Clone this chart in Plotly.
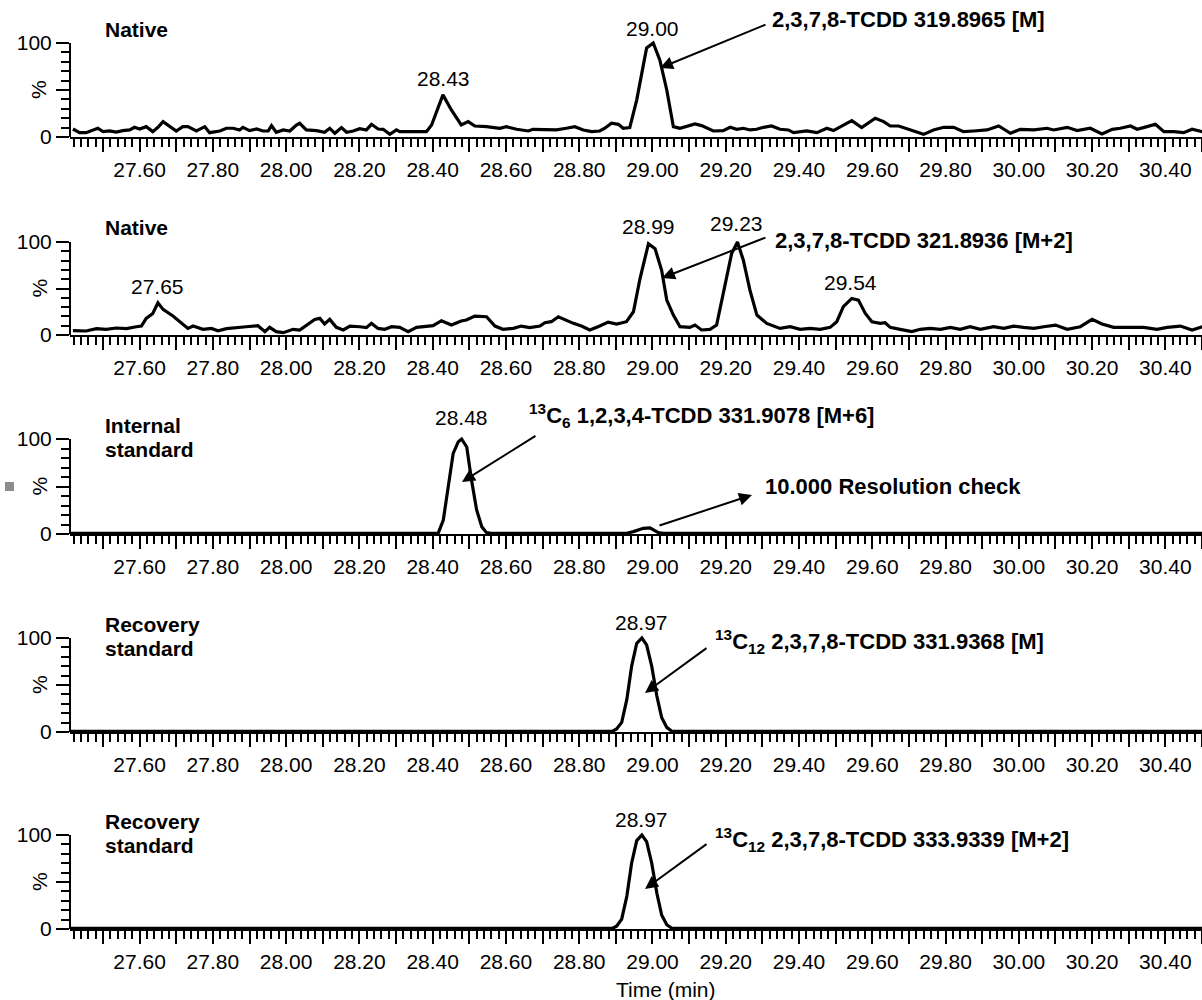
import plotly.graph_objects as go

# ---------------- data ----------------
# Panel 1: Native, 2,3,7,8-TCDD 319.8965 [M]
T1 = [27.418, 27.436, 27.454, 27.472, 27.486, 27.500, 27.518, 27.536, 27.554, 27.573,
      27.586, 27.600, 27.618, 27.636, 27.650, 27.664, 27.682, 27.700, 27.718, 27.732,
      27.755, 27.778, 27.791, 27.819, 27.837, 27.855, 27.873, 27.882, 27.900, 27.919,
      27.937, 27.951, 27.960, 27.973, 27.992, 28.010, 28.028, 28.037, 28.055, 28.083,
      28.105, 28.119, 28.133, 28.151, 28.165, 28.183, 28.201, 28.219, 28.233, 28.251,
      28.265, 28.283, 28.301, 28.310, 28.383, 28.397, 28.428, 28.451, 28.478, 28.497,
      28.515, 28.547, 28.583, 28.601, 28.629, 28.661, 28.674, 28.711, 28.738, 28.765,
      28.788, 28.811, 28.834, 28.856, 28.870, 28.888, 28.907, 28.920, 28.938, 28.957,
      28.984, 29.002, 29.020, 29.039, 29.057, 29.075, 29.093, 29.116, 29.134, 29.166,
      29.193, 29.212, 29.230, 29.248, 29.266, 29.284, 29.303, 29.325, 29.348, 29.371,
      29.385, 29.403, 29.421, 29.449, 29.476, 29.494, 29.517, 29.544, 29.571, 29.608,
      29.631, 29.649, 29.672, 29.704, 29.740, 29.767, 29.795, 29.822, 29.849, 29.877,
      29.913, 29.945, 29.977, 30.004, 30.041, 30.077, 30.095, 30.132, 30.159, 30.195,
      30.227, 30.255, 30.277, 30.305, 30.323, 30.350, 30.373, 30.396, 30.423, 30.450,
      30.473, 30.501]
I1 = [8.5, 4.6, 4.6, 7.5, 9.3, 5.7, 6.4, 5.3, 6.8, 7.5,
      10.3, 8.5, 11.0, 5.7, 10.3, 16.4, 11.7, 6.4, 11.0, 11.0,
      6.4, 11.0, 4.6, 6.4, 9.3, 9.3, 7.5, 10.3, 6.8, 8.5,
      6.4, 6.4, 12.1, 5.0, 7.5, 6.4, 12.8, 14.6, 7.5, 6.8,
      5.0, 9.3, 3.9, 10.0, 5.0, 6.4, 8.9, 7.5, 13.5, 8.5,
      8.2, 2.8, 7.5, 5.7, 5.7, 12.8, 44.8, 28.8, 12.8, 16.4,
      11.7, 11.0, 9.3, 11.0, 8.2, 6.4, 8.2, 7.5, 7.5, 9.3,
      11.0, 7.5, 5.7, 6.4, 9.3, 14.6, 13.5, 9.3, 10.0, 39.5,
      94.7, 100.0, 82.0, 50.0, 11.0, 9.3, 11.0, 13.9, 12.1, 6.4,
      6.8, 10.3, 8.2, 9.3, 7.5, 8.2, 10.3, 11.7, 8.2, 7.5,
      4.6, 5.7, 6.4, 4.6, 9.3, 6.8, 11.7, 17.4, 10.0, 19.9,
      16.4, 11.7, 11.7, 7.5, 2.8, 7.5, 10.3, 10.3, 5.7, 6.4,
      7.5, 11.7, 3.9, 8.2, 7.5, 9.3, 7.5, 10.3, 6.8, 9.3,
      3.2, 8.2, 9.3, 11.7, 8.2, 11.0, 13.5, 5.7, 5.7, 4.6,
      8.2, 5.7]

# Panel 2: Native, 2,3,7,8-TCDD 321.8936 [M+2]
T2 = [27.418, 27.454, 27.482, 27.509, 27.536, 27.564, 27.591, 27.605, 27.618, 27.636,
      27.650, 27.664, 27.691, 27.714, 27.732, 27.746, 27.773, 27.796, 27.814, 27.837,
      27.864, 27.891, 27.923, 27.942, 27.955, 27.973, 27.992, 28.019, 28.037, 28.055,
      28.078, 28.092, 28.105, 28.119, 28.137, 28.156, 28.174, 28.201, 28.219, 28.233,
      28.251, 28.269, 28.288, 28.310, 28.333, 28.356, 28.401, 28.424, 28.451, 28.478,
      28.492, 28.515, 28.547, 28.570, 28.592, 28.620, 28.642, 28.665, 28.693, 28.706,
      28.724, 28.743, 28.765, 28.784, 28.806, 28.829, 28.856, 28.879, 28.902, 28.929,
      28.948, 28.966, 28.989, 29.007, 29.025, 29.039, 29.057, 29.075, 29.102, 29.116,
      29.134, 29.157, 29.175, 29.193, 29.216, 29.232, 29.248, 29.266, 29.285, 29.312,
      29.348, 29.376, 29.403, 29.430, 29.458, 29.485, 29.503, 29.521, 29.544, 29.562,
      29.581, 29.599, 29.622, 29.635, 29.649, 29.676, 29.708, 29.731, 29.758, 29.786,
      29.813, 29.840, 29.867, 29.895, 29.931, 29.959, 29.986, 30.013, 30.041, 30.068,
      30.100, 30.132, 30.168, 30.200, 30.227, 30.259, 30.296, 30.341, 30.377, 30.405,
      30.441, 30.473, 30.501]
I2 = [4.6, 4.3, 6.8, 6.1, 7.5, 6.8, 8.9, 9.6, 17.9, 23.2,
      34.6, 27.5, 20.4, 13.2, 7.1, 9.6, 6.1, 7.1, 4.6, 6.8,
      8.2, 8.9, 10.0, 3.6, 8.2, 3.6, 2.5, 6.1, 5.4, 10.7,
      16.8, 17.9, 11.8, 16.8, 8.2, 5.4, 9.6, 8.9, 7.9, 12.5,
      7.1, 6.1, 8.9, 8.2, 3.6, 8.2, 10.0, 15.4, 10.7, 15.0,
      16.1, 20.4, 19.6, 9.6, 6.1, 7.1, 9.6, 7.9, 9.6, 13.2,
      14.3, 19.6, 15.4, 12.5, 9.6, 5.4, 9.6, 13.9, 11.8, 14.3,
      25.0, 60.7, 98.2, 92.9, 69.6, 37.5, 21.4, 8.9, 8.2, 10.7,
      5.4, 6.1, 10.7, 44.6, 87.5, 100.0, 80.4, 48.2, 21.4, 12.5,
      7.1, 8.9, 6.1, 7.1, 6.1, 8.2, 14.3, 30.4, 39.3, 37.5,
      23.2, 14.3, 12.5, 13.2, 8.2, 6.1, 3.6, 6.1, 7.1, 6.1,
      8.2, 6.1, 8.9, 6.1, 8.9, 7.1, 9.6, 8.2, 7.1, 8.9,
      10.7, 6.1, 8.9, 16.8, 11.8, 8.2, 8.2, 8.2, 6.1, 8.2,
      9.6, 5.4, 8.9]

# Panel 3: Internal standard, 13C6 1,2,3,4-TCDD 331.9078 [M+6]
T3 = [27.41, 28.40, 28.415, 28.429, 28.442, 28.456, 28.470, 28.479, 28.493, 28.506,
      28.520, 28.534, 28.547, 28.56, 28.93, 28.948, 28.975, 28.993, 29.016, 29.03, 30.50]
I3 = [0.8, 0.8, 0.7, 14.7, 49.8, 84.9, 97.2, 100.0, 91.6, 56.8,
      25.3, 7.7, 1.4, 0.8, 0.8, 2.5, 6.0, 6.5, 1.4, 0.8, 0.8]

# Panel 4: Recovery standard, 13C12 2,3,7,8-TCDD 331.9368 [M]
T4 = [27.41, 28.89, 28.902, 28.916, 28.930, 28.943, 28.957, 28.971, 28.984, 28.998,
      29.012, 29.025, 29.039, 29.053, 30.50]
I4 = [0.6, 0.6, 3.2, 10.2, 34.7, 69.8, 94.4, 100.0, 92.6, 69.8,
      38.2, 15.4, 4.9, 0.7, 0.6]

# Panel 5: Recovery standard, 13C12 2,3,7,8-TCDD 333.9339 [M+2]
T5 = [27.41, 28.89, 28.902, 28.916, 28.930, 28.943, 28.957, 28.971, 28.984, 28.998,
      29.012, 29.025, 29.039, 29.053, 30.50]
I5 = [0.6, 0.6, 3.0, 10.5, 35.0, 70.0, 94.0, 100.0, 93.0, 70.0,
      38.0, 15.0, 4.5, 0.7, 0.6]

PANEL_TITLES = [["Native"], ["Native"], ["Internal", "standard"],
                ["Recovery", "standard"], ["Recovery", "standard"]]
PEAK_LABELS = [[(28.43, "28.43"), (29.00, "29.00")],
               [(27.65, "27.65"), (28.99, "28.99"), (29.23, "29.23"), (29.54, "29.54")],
               [(28.48, "28.48")],
               [(28.97, "28.97")],
               [(28.97, "28.97")]]
COMPOUNDS = [["2,3,7,8-TCDD 319.8965 [M]"],
             ["2,3,7,8-TCDD 321.8936 [M+2]"],
             ["<sup>13</sup>C<sub>6</sub> 1,2,3,4-TCDD 331.9078 [M+6]", "10.000 Resolution check"],
             ["<sup>13</sup>C<sub>12</sub> 2,3,7,8-TCDD 331.9368 [M]"],
             ["<sup>13</sup>C<sub>12</sub> 2,3,7,8-TCDD 333.9339 [M+2]"]]

MAJOR_TICKS = [27.5, 27.6, 27.7, 27.8, 27.9, 28.0, 28.1, 28.2, 28.3, 28.4, 28.5, 28.6,
               28.7, 28.8, 28.9, 29.0, 29.1, 29.2, 29.3, 29.4, 29.5, 29.6, 29.7, 29.8,
               29.9, 30.0, 30.1, 30.2, 30.3, 30.4, 30.5]
MAJOR_TEXT = [" ", "27.60", " ", "27.80", " ", "28.00", " ", "28.20", " ", "28.40", " ", "28.60",
              " ", "28.80", " ", "29.00", " ", "29.20", " ", "29.40", " ", "29.60", " ", "29.80",
              " ", "30.00", " ", "30.20", " ", "30.40", " "]
X_RANGE = [27.41, 30.50]

# ---------------- layout helpers ----------------
W, H = 1202, 1000
L = 70
FONT = "Liberation Sans, Arial, Helvetica, sans-serif"
FS = 21
FSB = 22


def pxx(px):
    return (px - L) / (W - L)


def pxy(py):
    return 1 - py / H


zero_px = [137, 335, 534, 732, 929]
hund_px = [43, 242, 439, 638, 835]
YTOP = 104

fig = go.Figure()
series = [(T1, I1), (T2, I2), (T3, I3), (T4, I4), (T5, I5)]
annotations = []
shapes = []

for i, (t, v) in enumerate(series):
    n = i + 1
    xa = "x" if n == 1 else f"x{n}"
    ya = "y" if n == 1 else f"y{n}"
    fig.add_trace(go.Scatter(x=t, y=v, mode="lines", xaxis=xa, yaxis=ya,
                             line=dict(color="black", width=3.2),
                             showlegend=False, hoverinfo="skip"))
    scale = (zero_px[i] - hund_px[i]) / 100.0
    dom = [pxy(zero_px[i]), pxy(hund_px[i] - (YTOP - 100) * scale)]
    fig.layout[f"xaxis{n}" if n > 1 else "xaxis"] = dict(
        domain=[0, 1], anchor=ya, range=X_RANGE, showgrid=False, zeroline=False,
        showline=True, linecolor="black", linewidth=2, automargin=False,
        tickmode="array", tickvals=MAJOR_TICKS, ticktext=MAJOR_TEXT,
        ticks="outside", ticklen=13, tickwidth=2, tickcolor="black",
        tickfont=dict(family=FONT, size=FS, color="black"),
        minor=dict(tickmode="linear", tick0=27.40, dtick=0.02, ticks="outside",
                   ticklen=8, tickwidth=2, tickcolor="black", showgrid=False),
        fixedrange=True)
    fig.layout[f"yaxis{n}" if n > 1 else "yaxis"] = dict(
        domain=dom, anchor=xa, range=[0, YTOP], showgrid=False, zeroline=False,
        showline=False, automargin=False, tickmode="array", tickvals=[0, 50, 100],
        ticktext=["0", " ", "100"], ticks="outside", ticklen=13, tickwidth=2,
        tickcolor="black", tickfont=dict(family=FONT, size=FS, color="black"),
        minor=dict(tickmode="linear", tick0=0, dtick=10, ticks="outside",
                   ticklen=8, tickwidth=2, tickcolor="black", showgrid=False),
        fixedrange=True)
    # y axis line from 0 to 100
    shapes.append(dict(type="line", xref=f"{xa} domain", yref=ya, x0=0, x1=0,
                       y0=0, y1=100, line=dict(color="black", width=2)))
    # % label
    annotations.append(dict(text="%", xref="paper", yref="paper", x=pxx(39),
                            y=pxy((zero_px[i] + hund_px[i]) / 2), showarrow=False,
                            textangle=-90, font=dict(family=FONT, size=FS, color="black"),
                            xanchor="center", yanchor="middle"))
    # panel titles
    for j, line in enumerate(PANEL_TITLES[i]):
        annotations.append(dict(text=f"<b>{line}</b>", xref="paper", yref="paper",
                                x=pxx(103), y=pxy(hund_px[i] - 14 + 24 * j),
                                showarrow=False, xanchor="left", yanchor="middle",
                                font=dict(family=FONT, size=FS, color="black")))

# peak labels (y position in pixels)
peak_y = [[79, 28], [286, 227, 224, 282], [417], [622], [819]]
for i, labels in enumerate(PEAK_LABELS):
    n = i + 1
    xa = "x" if n == 1 else f"x{n}"
    for (tx, lab), py in zip(labels, peak_y[i]):
        annotations.append(dict(text=lab, xref=xa, yref="paper", x=tx, y=pxy(py),
                                showarrow=False, xanchor="center", yanchor="middle",
                                font=dict(family=FONT, size=FS, color="black")))

# compound labels: (left px, center y px)
comp_pos = [[(770, 19)], [(773, 240)], [(527, 416), (763, 486)], [(713, 641)], [(713, 839)]]
for i, comps in enumerate(COMPOUNDS):
    for txt, (lx, cy) in zip(comps, comp_pos[i]):
        annotations.append(dict(text=f"<b>{txt}</b>", xref="paper", yref="paper",
                                x=pxx(lx), y=pxy(cy), showarrow=False,
                                xanchor="left", yanchor="middle",
                                font=dict(family=FONT, size=FSB, color="black")))

# arrows: (head px, tail px)
arrows = [((660, 68), (767, 24)),
          ((662, 278), (767, 237)),
          ((462, 482), (537, 435)),
          ((752, 495), (658, 526)),
          ((645, 693), (708, 647)),
          ((645, 889), (708, 843))]
for (hx, hy), (tx, ty) in arrows:
    annotations.append(dict(text="", xref="paper", yref="paper", x=pxx(hx), y=pxy(hy),
                            ax=tx - hx, ay=ty - hy, axref="pixel", ayref="pixel",
                            showarrow=True, arrowhead=2, arrowsize=1.3, arrowwidth=2,
                            arrowcolor="black", standoff=0, startstandoff=0))

# x axis title
annotations.append(dict(text="Time (min)", xref="paper", yref="paper", x=pxx(666), y=pxy(989),
                        showarrow=False, xanchor="center", yanchor="middle",
                        font=dict(family=FONT, size=FS, color="black")))

# small grey mark at left edge
shapes.append(dict(type="rect", xref="paper", yref="paper", x0=pxx(5), x1=pxx(14),
                   y0=pxy(491), y1=pxy(482), fillcolor="#8c8c8c", line=dict(width=0)))

fig.update_layout(width=W, height=H, margin=dict(l=L, r=0, t=0, b=0, autoexpand=False),
                  paper_bgcolor="white", plot_bgcolor="white",
                  annotations=annotations, shapes=shapes,
                  font=dict(family=FONT, size=FS, color="black"))

fig.write_html("out.html", config={"displayModeBar": False},
               post_script="document.body.style.margin='0px';"
                           "document.body.style.padding='0px';"
                           "document.body.style.overflow='hidden';")
